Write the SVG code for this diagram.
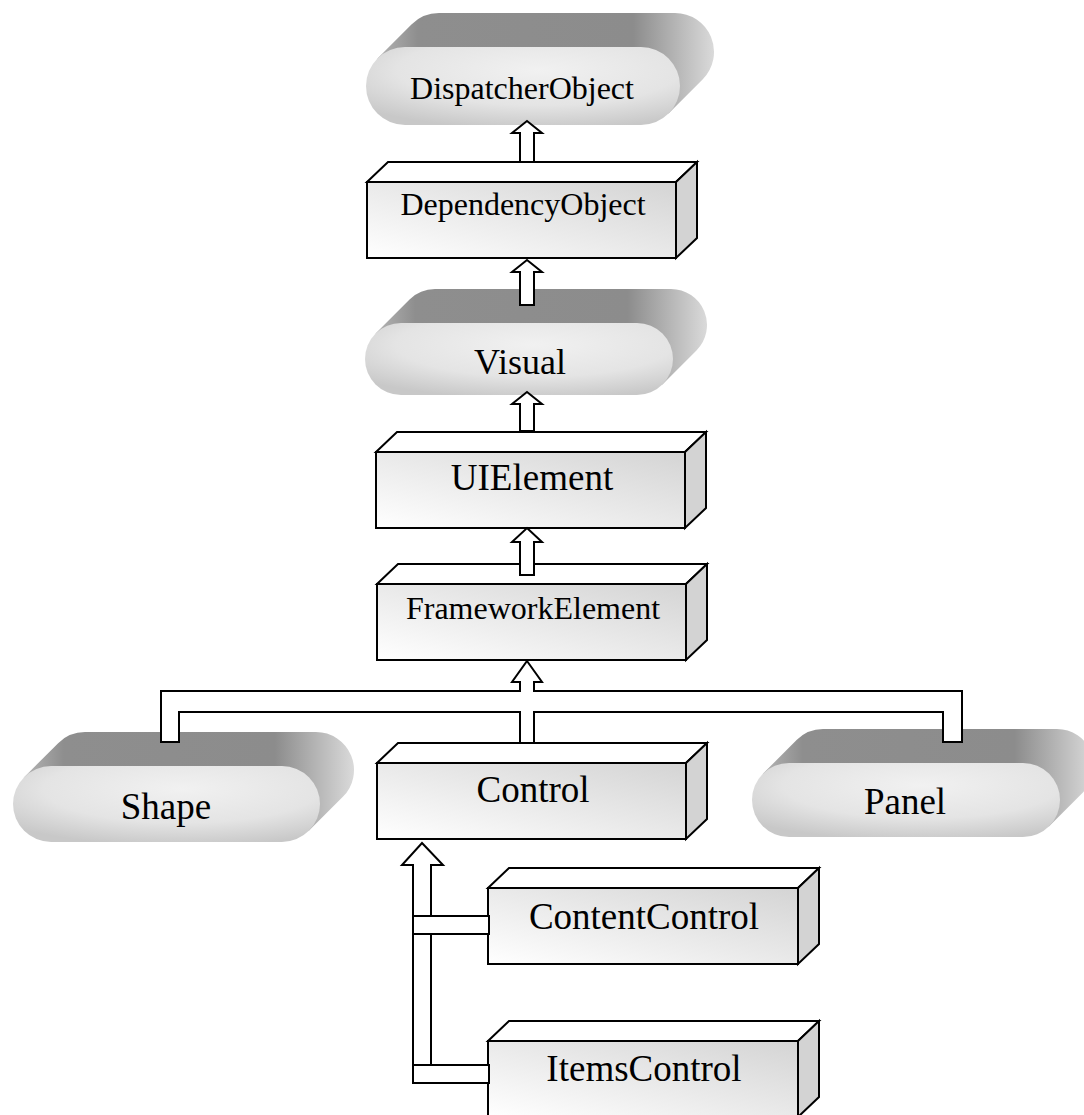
<svg xmlns="http://www.w3.org/2000/svg" width="1084" height="1115" viewBox="0 0 1084 1115">
<defs>
<linearGradient id="gFront" x1="1" y1="0" x2="0" y2="1"><stop offset="0" stop-color="#d4d4d4"/><stop offset="1" stop-color="#ffffff"/></linearGradient>
<radialGradient id="gPill" cx="0.55" cy="0.3" r="0.75"><stop offset="0" stop-color="#f1f1f1"/><stop offset="0.6" stop-color="#e4e4e4"/><stop offset="1" stop-color="#c8c8c8"/></radialGradient>
<linearGradient id="gExt" x1="0" y1="0" x2="1" y2="0"><stop offset="0" stop-color="#b4b4b4"/><stop offset="0.12" stop-color="#8e8e8e"/><stop offset="0.76" stop-color="#8c8c8c"/><stop offset="1" stop-color="#dadada"/></linearGradient>
</defs>
<style>
.top{fill:#ffffff;stroke:#000;stroke-width:2;stroke-linejoin:miter}
.side{fill:#d3d3d3;stroke:#000;stroke-width:2}
.front{fill:url(#gFront);stroke:#000;stroke-width:2}
.ext{fill:url(#gExt);stroke:none}
.pill{fill:url(#gPill);stroke:none}
.lbl{font-family:"Liberation Serif","Times New Roman",serif;fill:#000;text-anchor:middle}
.conn{fill:#ffffff;stroke:#000;stroke-width:2;stroke-linejoin:miter}
</style>
<rect width="1084" height="1115" fill="#ffffff"/>
<g id="DispatcherObject">
<path class="ext" d="M377.42,58.42 L411.42,24.42 A39,39 0 0 1 439,13 L675,13 A39,39 0 0 1 702.58,79.58 L668.58,113.58 L641,86 L405,86 Z"/>
<rect class="pill" x="366" y="47" width="314" height="78" rx="39"/>
<text class="lbl" x="522" y="99" font-size="32">DispatcherObject</text>
</g>
<g id="DependencyObject">
<polygon class="top" points="367,182 388,162 697,162 676,182"/>
<polygon class="side" points="676,182 697,162 697,238 676,258"/>
<rect class="front" x="367" y="182" width="309" height="76"/>
<text class="lbl" x="523" y="215" font-size="32">DependencyObject</text>
</g>
<g id="Visual">
<path class="ext" d="M375.54,333.54 L409.54,299.54 A36,36 0 0 1 435,289 L671,289 A36,36 0 0 1 696.46,350.46 L662.46,384.46 L637,359 L401,359 Z"/>
<rect class="pill" x="365" y="323" width="308" height="72" rx="36"/>
<text class="lbl" x="520" y="374" font-size="36">Visual</text>
</g>
<g id="UIElement">
<polygon class="top" points="376,452 397,432 706,432 685,452"/>
<polygon class="side" points="685,452 706,432 706,508 685,528"/>
<rect class="front" x="376" y="452" width="309" height="76"/>
<text class="lbl" x="532" y="490" font-size="37">UIElement</text>
</g>
<g id="FrameworkElement">
<polygon class="top" points="377,584 398,564 707,564 686,584"/>
<polygon class="side" points="686,584 707,564 707,640 686,660"/>
<rect class="front" x="377" y="584" width="309" height="76"/>
<text class="lbl" x="533" y="619" font-size="32">FrameworkElement</text>
</g>
<g id="Shape">
<path class="ext" d="M24.13,777.13 L58.13,743.13 A38,38 0 0 1 85,732 L316,732 A38,38 0 0 1 342.87,796.87 L308.87,830.87 L282,804 L51,804 Z"/>
<rect class="pill" x="13" y="766" width="307" height="76" rx="38"/>
<text class="lbl" x="166" y="819" font-size="37">Shape</text>
</g>
<g id="Control">
<polygon class="top" points="377,763 398,743 707,743 686,763"/>
<polygon class="side" points="686,763 707,743 707,819 686,839"/>
<rect class="front" x="377" y="763" width="309" height="76"/>
<text class="lbl" x="533" y="802" font-size="37">Control</text>
</g>
<g id="Panel">
<path class="ext" d="M762.84,773.84 L796.84,739.84 A37,37 0 0 1 823,729 L1057,729 A37,37 0 0 1 1083.16,792.16 L1049.16,826.16 L1023,800 L789,800 Z"/>
<rect class="pill" x="752" y="763" width="308" height="74" rx="37"/>
<text class="lbl" x="905" y="814" font-size="37">Panel</text>
</g>
<g id="ContentControl">
<polygon class="top" points="488,888 509,868 819,868 798,888"/>
<polygon class="side" points="798,888 819,868 819,944 798,964"/>
<rect class="front" x="488" y="888" width="310" height="76"/>
<text class="lbl" x="644" y="929" font-size="37">ContentControl</text>
</g>
<g id="ItemsControl">
<polygon class="top" points="488,1041 509,1021 819,1021 798,1041"/>
<polygon class="side" points="798,1041 819,1021 819,1097 798,1117"/>
<rect class="front" x="488" y="1041" width="310" height="76"/>
<text class="lbl" x="644" y="1081" font-size="37">ItemsControl</text>
</g>
<g id="connectors">
<path class="conn" d="M527,121 L542,133 L534,133 L534,162 L520,162 L520,133 L512,133 Z"/>
<path class="conn" d="M527,260 L542,272 L534,272 L534,305 L520,305 L520,272 L512,272 Z"/>
<path class="conn" d="M527,392 L542,404 L534,404 L534,431 L520,431 L520,404 L512,404 Z"/>
<path class="conn" d="M527,528 L542,542 L534,542 L534,575 L520,575 L520,542 L512,542 Z"/>
<path class="conn" d="M527,661 L542,682 L534,682 L534,691 L962,691 L962,742 L943,742 L943,712 L534,712 L534,743 L520,743 L520,712 L179,712 L179,742 L161,742 L161,691 L520,691 L520,682 L512,682 Z"/>
<path class="conn" d="M422,843 L443,865 L431,865 L431,1083 L413,1083 L413,865 L402,865 Z"/>
<rect class="conn" x="413" y="916" width="76" height="18"/>
<rect class="conn" x="413" y="1065" width="76" height="18"/>
</g>
</svg>
